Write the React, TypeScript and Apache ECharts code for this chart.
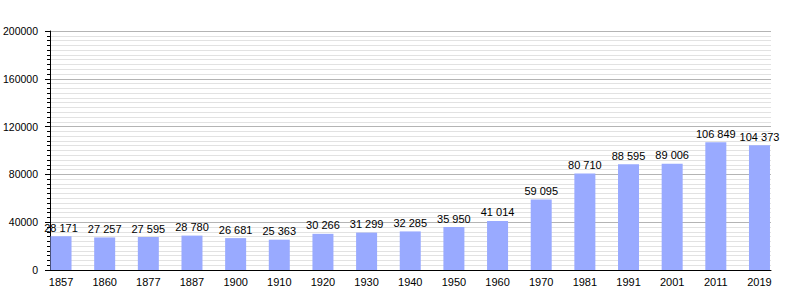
import React, { useEffect, useRef } from "react";
import * as echarts from "echarts";

const years = ["1857", "1860", "1877", "1887", "1900", "1910", "1920", "1930", "1940", "1950", "1960", "1970", "1981", "1991", "2001", "2011", "2019"];
const population = [28171, 27257, 27595, 28780, 26681, 25363, 30266, 31299, 32285, 35950, 41014, 59095, 80710, 88595, 89006, 106849, 104373];
const yTicks = [0, 40000, 80000, 120000, 160000, 200000];

const fmt = (v: number) => String(v).replace(/\B(?=(\d{3})+(?!\d))/g, " ");

export default function App() {
  const ref = useRef<HTMLDivElement>(null);
  useEffect(() => {
    if (!ref.current) return;
    const chart = echarts.init(ref.current, null, { renderer: "svg" });
    const font = "'Liberation Sans', Arial, sans-serif";
    chart.setOption({
      animation: false,
      backgroundColor: "#ffffff",
      grid: [
        { left: 39.2, right: 18.7, top: 31, bottom: 30, outerBoundsMode: "none", containLabel: false },
        { left: 50, right: 29, top: 31, bottom: 30, outerBoundsMode: "none", containLabel: false },
      ],
      xAxis: [
        {
          type: "category",
          gridIndex: 0,
          data: years,
          axisLine: { show: false },
          axisTick: { show: false },
          axisLabel: { color: "#000", fontSize: 11, fontFamily: font, margin: 6 },
        },
        {
          type: "value",
          gridIndex: 1,
          min: 0,
          max: 1,
          axisLine: { show: true, lineStyle: { color: "#000", width: 1 } },
          axisTick: { show: false },
          axisLabel: { show: false },
          splitLine: { show: false },
        },
      ],
      yAxis: [
        {
          type: "value",
          gridIndex: 0,
          min: 0,
          max: 200000,
          show: false,
          splitLine: { show: false },
        },
        {
          type: "value",
          gridIndex: 1,
          min: yTicks[0],
          max: yTicks[yTicks.length - 1],
          interval: 40000,
          axisLine: { show: true, lineStyle: { color: "#000", width: 1 } },
          axisTick: { show: true, length: 5, lineStyle: { color: "#000" } },
          minorTick: { show: true, splitNumber: 10, length: 3, lineStyle: { color: "#000" } },
          axisLabel: { color: "#000", fontSize: 10.5, fontFamily: font, margin: 12, align: "right", formatter: (v: number) => String(v) },
          splitLine: { show: true, lineStyle: { color: "#b4b4b4", width: 1 } },
          minorSplitLine: { show: true, lineStyle: { color: "#e2e2e2", width: 1 } },
          z: 0,
        },
      ],
      series: [
        {
          type: "bar",
          xAxisIndex: 0,
          yAxisIndex: 0,
          data: population,
          barWidth: 21,
          itemStyle: { color: "#99aaff" },
          z: 5,
          label: {
            show: true,
            position: "top",
            distance: 3,
            color: "#000",
            fontSize: 11,
            fontFamily: font,
            formatter: (p: any) => fmt(p.value),
          },
        },
      ],
    });
    return () => chart.dispose();
  }, []);
  return <div ref={ref} style={{ width: 800, height: 300, position: "fixed", left: 0, top: 0 }} />;
}
